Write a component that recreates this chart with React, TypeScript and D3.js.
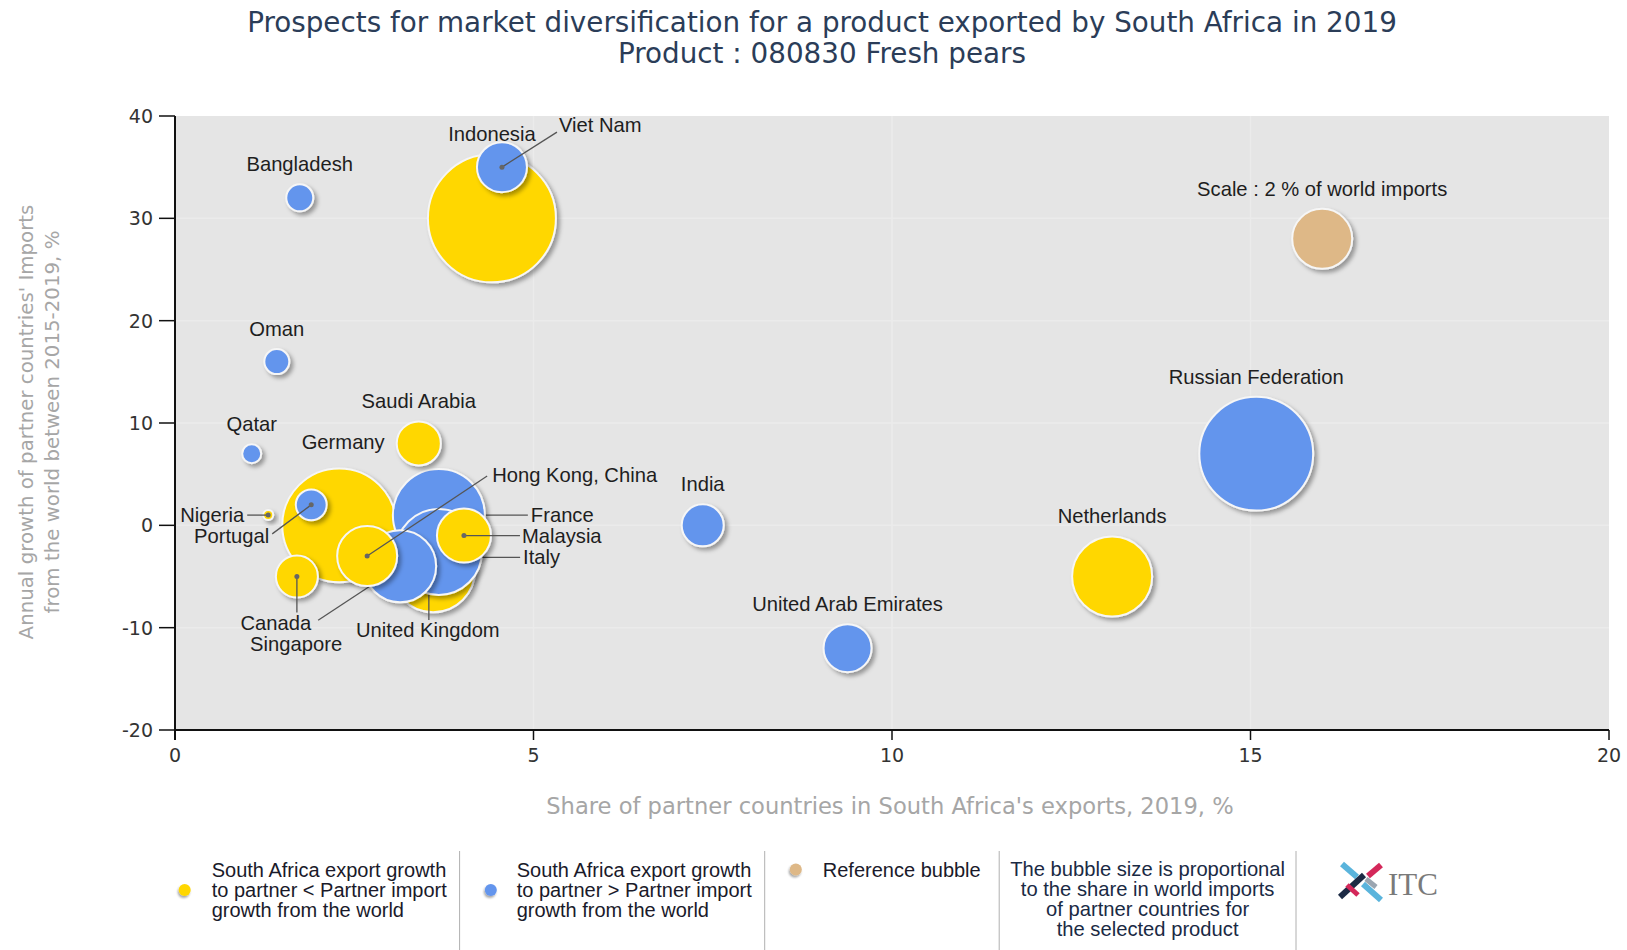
import React from 'react';
import * as d3 from 'd3';

// ---------- data ----------
const countries = ['Indonesia', 'Germany', 'Russian Federation', 'France', 'Italy', 'United Kingdom', 'Netherlands', 'Singapore', 'Hong Kong, China', 'Malaysia', 'Viet Nam', 'United Arab Emirates', 'Saudi Arabia', 'India', 'Canada', 'Portugal', 'Bangladesh', 'Oman', 'Qatar', 'Nigeria'];
// Share of partner countries in South Africa's exports, 2019, %
const shareInExports = [4.42, 2.29, 15.08, 3.68, 3.6, 3.68, 13.07, 3.14, 2.68, 4.03, 4.56, 9.38, 3.4, 7.36, 1.7, 1.9, 1.74, 1.42, 1.07, 1.3];
// Annual growth of partner countries' imports 2015-2019, %
const importGrowth = [30, 0, 7, 1, -4.4, -2.6, -5, -4, -3, -1, 35, -12, 8, 0, -5, 2, 32, 16, 7, 1];
// Share in world imports, %
const worldImportShare = [9.1, 7.2, 7.2, 4.7, 3.9, 4.1, 3.56, 2.88, 2.0, 1.62, 1.39, 1.28, 1.08, 0.98, 0.98, 0.53, 0.405, 0.347, 0.2, 0.056];
// 'lt': SA export growth < partner import growth ; 'gt': SA export growth > partner import growth
const group = ['lt', 'lt', 'gt', 'gt', 'lt', 'gt', 'lt', 'gt', 'lt', 'lt', 'gt', 'gt', 'lt', 'gt', 'lt', 'gt', 'gt', 'gt', 'gt', 'lt'];

const referenceBubble = { label: 'Scale : 2 % of world imports', x: 16, y: 28, share: 2 };

const xTicks = [0, 5, 10, 15, 20];
const yTicks = [40, 30, 20, 10, 0, -10, -20];

const titleLines = ['Prospects for market diversification for a product exported by South Africa in 2019', 'Product : 080830 Fresh pears'];
const xAxisTitle = "Share of partner countries in South Africa's exports, 2019, %";
const yAxisTitle = ["Annual growth of partner countries' Imports", 'from the world between 2015-2019, %'];

const legendTexts = [
  ['South Africa export growth', 'to partner < Partner import', 'growth from the world'],
  ['South Africa export growth', 'to partner > Partner import', 'growth from the world'],
  ['Reference bubble'],
  ['The bubble size is proportional', 'to the share in world imports', 'of partner countries for', 'the selected product'],
];

// ---------- styling / layout ----------
const COLORS: Record<string, string> = { lt: '#FFD700', gt: '#6495ED', ref: '#DEB887' };
const W = 1627, H = 950;
const PLOT = { left: 175, right: 1609, top: 116, bottom: 730 };

type Leader = { sx: number; sy: number; ex?: number; ey?: number; layer: 'over' | 'under'; dot?: boolean };
type Placement = { dx: number; dy: number; anchor: 'start' | 'middle' | 'end'; leader?: Leader };
const placements: Record<string, Placement> = {
  'Viet Nam': { dx: 57, dy: -42, anchor: 'start', leader: { sx: 55, sy: -35, layer: 'over', dot: true } },
  'Nigeria': { dx: -24, dy: 0, anchor: 'end', leader: { sx: -21, sy: 0, layer: 'over', dot: true } },
  'Portugal': { dx: -42, dy: 31, anchor: 'end', leader: { sx: -39, sy: 29, layer: 'over', dot: true } },
  'Canada': { dx: -21, dy: 46, anchor: 'middle', leader: { sx: 0, sy: 36, layer: 'over', dot: true } },
  'Singapore': { dx: -104, dy: 78, anchor: 'middle', leader: { sx: -82, sy: 54, layer: 'under' } },
  'Hong Kong, China': { dx: 125, dy: -81, anchor: 'start', leader: { sx: 120, sy: -80, layer: 'over', dot: true } },
  'France': { dx: 92, dy: 0, anchor: 'start', leader: { sx: 89, sy: 0, layer: 'under' } },
  'Malaysia': { dx: 58, dy: 0, anchor: 'start', leader: { sx: 56, sy: 0, layer: 'over', dot: true } },
  'Italy': { dx: 90, dy: -13, anchor: 'start', leader: { sx: 87, sy: -13, ex: 0, ey: -13, layer: 'under' } },
  'United Kingdom': { dx: -11, dy: 78, anchor: 'middle', leader: { sx: -10, sy: 68, ex: -10, ey: 0, layer: 'under' } },
  'Germany': { dx: 4, dy: -83, anchor: 'middle' },
};

const x = d3.scaleLinear().domain([0, 20]).range([PLOT.left, PLOT.right]);
const y = d3.scaleLinear().domain([-20, 40]).range([PLOT.bottom, PLOT.top]);
const r = d3.scaleSqrt().domain([0, 2]).range([0, 30]);

const LABEL_FONT = '"Liberation Sans", Arial, sans-serif';
const VERDANA = '"DejaVu Sans", Verdana, sans-serif';

export default function App() {
  const bubbles = countries.map((name, i) => ({
    name,
    cx: x(shareInExports[i]),
    cy: y(importGrowth[i]),
    rr: r(worldImportShare[i]),
    color: COLORS[group[i]],
  }));

  const refB = { cx: x(referenceBubble.x), cy: y(referenceBubble.y), rr: r(referenceBubble.share) };

  const leaderLine = (b: any, p: Placement, key: string) => {
    const L = p.leader!;
    return (
      <line key={key} x1={b.cx + L.sx} y1={b.cy + L.sy} x2={b.cx + (L.ex ?? 0)} y2={b.cy + (L.ey ?? 0)}
        stroke="#555" strokeWidth={1.3} />
    );
  };

  const legendX = [184.7, 490.8, 795.8];
  const legendTextX = [211.7, 516.7, 822.8];
  const legendLineY = [869.5, 889.5, 909.5, 929.5];
  const separators = [459.6, 764.7, 999.2, 1296];

  return (
    <svg width={W} height={H} style={{ position: 'absolute', left: 0, top: 0, background: '#fff' }}
      xmlns="http://www.w3.org/2000/svg">
      <defs>
        <filter id="shadow" x="-50%" y="-50%" width="200%" height="200%">
          <feDropShadow dx="3" dy="3" stdDeviation="2" floodColor="#000" floodOpacity="0.35" />
        </filter>
        <filter id="smallshadow" x="-80%" y="-80%" width="260%" height="260%">
          <feDropShadow dx="-1" dy="2" stdDeviation="1" floodColor="#000" floodOpacity="0.35" />
        </filter>
      </defs>

      {/* title */}
      {titleLines.map((t, i) => (
        <text key={t} x={822} y={22 + i * 31} textAnchor="middle" dominantBaseline="central"
          fontFamily={VERDANA} fontSize={27.8} fill="#2b3d58">{t}</text>
      ))}

      {/* plot background */}
      <rect x={PLOT.left} y={PLOT.top} width={PLOT.right - PLOT.left} height={PLOT.bottom - PLOT.top} fill="#e5e5e5" />
      {/* gridlines */}
      {xTicks.slice(1, -1).map(t => (
        <line key={'gx' + t} x1={x(t)} x2={x(t)} y1={PLOT.top} y2={PLOT.bottom} stroke="#ebebeb" strokeWidth={1.5} />
      ))}
      {yTicks.slice(1, -1).map(t => (
        <line key={'gy' + t} x1={PLOT.left} x2={PLOT.right} y1={y(t)} y2={y(t)} stroke="#ebebeb" strokeWidth={1.5} />
      ))}

      {/* bubbles */}
      {bubbles.map(b => {
        const p = placements[b.name];
        return (
          <g key={b.name}>
            {p?.leader?.layer === 'under' && leaderLine(b, p, 'l')}
            <circle cx={b.cx} cy={b.cy} r={b.rr} fill={b.color} stroke="#f6f6f6" strokeWidth={2} filter="url(#shadow)" />
            {p?.leader?.layer === 'over' && leaderLine(b, p, 'l')}
            {p?.leader?.dot && <circle cx={b.cx} cy={b.cy} r={2.5} fill="#666" />}
          </g>
        );
      })}
      {/* reference bubble */}
      <circle cx={refB.cx} cy={refB.cy} r={refB.rr} fill={COLORS.ref} stroke="#f6f6f6" strokeWidth={2} filter="url(#shadow)" />

      {/* bubble labels */}
      {bubbles.map(b => {
        const p = placements[b.name];
        const lx = p ? b.cx + p.dx : b.cx;
        const ly = p ? b.cy + p.dy : b.cy - b.rr - 20;
        return (
          <text key={'t' + b.name} x={lx} y={ly} textAnchor={p ? p.anchor : 'middle'} dominantBaseline="central"
            fontFamily={LABEL_FONT} fontSize={20.2} fill="#1e1e1e">{b.name}</text>
        );
      })}
      <text x={refB.cx} y={refB.cy - refB.rr - 20} textAnchor="middle" dominantBaseline="central"
        fontFamily={LABEL_FONT} fontSize={20.2} fill="#1e1e1e">{referenceBubble.label}</text>

      {/* axes */}
      <line x1={PLOT.left} x2={PLOT.left} y1={PLOT.top} y2={PLOT.bottom + 10} stroke="#111" strokeWidth={2} />
      <line x1={PLOT.left - 1} x2={PLOT.right} y1={PLOT.bottom} y2={PLOT.bottom} stroke="#111" strokeWidth={2} />
      {yTicks.map(t => (
        <g key={'yt' + t}>
          <line x1={PLOT.left - 16} x2={PLOT.left} y1={y(t)} y2={y(t)} stroke="#111" strokeWidth={1.5} />
          <text x={PLOT.left - 22} y={y(t)} textAnchor="end" dominantBaseline="central"
            fontFamily={VERDANA} fontSize={19} fill="#333">{t}</text>
        </g>
      ))}
      {xTicks.map(t => (
        <g key={'xt' + t}>
          <line x1={x(t)} x2={x(t)} y1={PLOT.bottom} y2={PLOT.bottom + 10} stroke="#111" strokeWidth={1.5} />
          <text x={x(t)} y={PLOT.bottom + 25} textAnchor="middle" dominantBaseline="central"
            fontFamily={VERDANA} fontSize={19} fill="#333">{t}</text>
        </g>
      ))}

      {/* axis titles */}
      <text x={890} y={806} textAnchor="middle" dominantBaseline="central" fontFamily={VERDANA} fontSize={22.6} fill="#a6a6a6">{xAxisTitle}</text>
      {yAxisTitle.map((t, i) => (
        <text key={t} transform={`translate(${26 + i * 26},422) rotate(-90)`} textAnchor="middle" dominantBaseline="central"
          fontFamily={VERDANA} fontSize={19.8} fill="#a6a6a6">{t}</text>
      ))}

      {/* legend */}
      {separators.map(s => (
        <line key={'s' + s} x1={s} x2={s} y1={851} y2={950} stroke="#b0b0b0" strokeWidth={1} />
      ))}
      {[COLORS.lt, COLORS.gt].map((c, i) => (
        <circle key={'ld' + i} cx={legendX[i]} cy={890} r={6} fill={c} filter="url(#smallshadow)" />
      ))}
      <circle cx={legendX[2]} cy={869.5} r={6} fill={COLORS.ref} filter="url(#smallshadow)" />
      {legendTexts.slice(0, 3).map((lines, i) => (
        <text key={'lt' + i} fontFamily={LABEL_FONT} fontSize={20} fill="#1a1a2a">
          {lines.map((l, j) => (
            <tspan key={j} x={legendTextX[i]} y={legendLineY[j]} dominantBaseline="central">{l}</tspan>
          ))}
        </text>
      ))}
      <text fontFamily={LABEL_FONT} fontSize={20.2} fill="#1a2a44" textAnchor="middle">
        {legendTexts[3].map((l, j) => (
          <tspan key={j} x={1147.6} y={legendLineY[j] - 1} dominantBaseline="central">{l}</tspan>
        ))}
      </text>

      {/* ITC logo */}
      <g>
        <line x1={1342} y1={864} x2={1357} y2={877} stroke="#5ab4dc" strokeWidth={6} />
        <line x1={1381} y1={865} x2={1368} y2={876} stroke="#d4285a" strokeWidth={6} />
        <line x1={1340} y1={897} x2={1364} y2={875} stroke="#1c2a44" strokeWidth={6} />
        <line x1={1347} y1={885} x2={1358} y2={895} stroke="#d4285a" strokeWidth={5} />
        <line x1={1363} y1={884} x2={1381} y2={900} stroke="#5ab4dc" strokeWidth={6} />
        <line x1={1366} y1={879} x2={1376} y2={887} stroke="#9aa5b0" strokeWidth={5} />
        <text x={1388} y={884} dominantBaseline="central" fontFamily='"Liberation Serif", "DejaVu Serif", serif'
          fontSize={31} fill="#7a7a7a">ITC</text>
      </g>
    </svg>
  );
}
